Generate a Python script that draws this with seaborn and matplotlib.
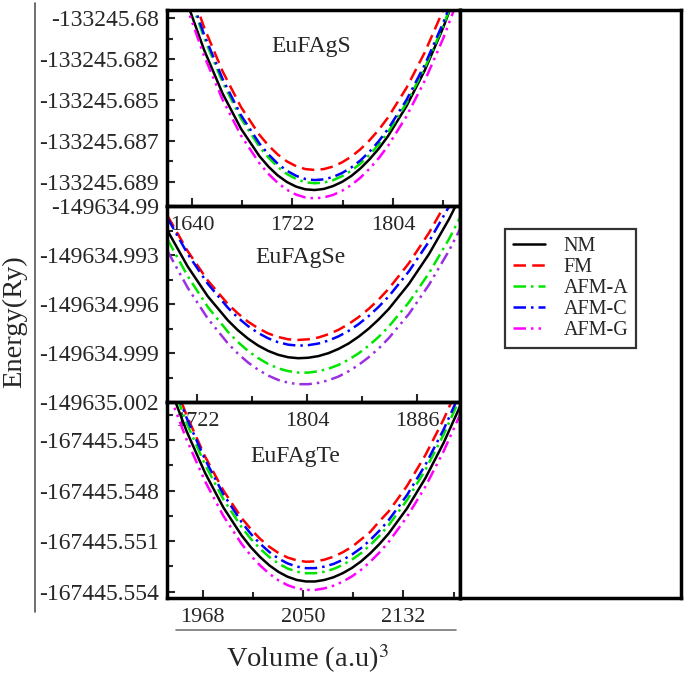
import pandas as pd
import matplotlib
matplotlib.use('Agg')
import matplotlib.pyplot as plt
from matplotlib.lines import Line2D
from matplotlib.ticker import FixedLocator, FixedFormatter
import seaborn as sns

phases = ['NM', 'FM', 'AFM-A', 'AFM-C', 'AFM-G']

# EuFAgS
vol_s = [1620, 1635, 1650, 1665, 1680, 1695, 1702.5, 1710, 1717.5, 1725, 1732.5, 1740,
         1747.5, 1755, 1762.5, 1770, 1777.5, 1785, 1792.5, 1800, 1815, 1830, 1845, 1860]
e_s_nm = [-133245.67558, -133245.67892, -133245.68180, -133245.68424, -133245.68622, -133245.68776,
          -133245.68836, -133245.68885, -133245.68922, -133245.68948, -133245.68963, -133245.68967,
          -133245.68961, -133245.68945, -133245.68921, -133245.68888, -133245.68845, -133245.68793,
          -133245.68733, -133245.68663, -133245.68495, -133245.68292, -133245.68052, -133245.67775]
e_s_fm = [-133245.67426, -133245.67762, -133245.68053, -133245.68299, -133245.68500, -133245.68656,
          -133245.68717, -133245.68767, -133245.68806, -133245.68833, -133245.68849, -133245.68854,
          -133245.68849, -133245.68835, -133245.68811, -133245.68779, -133245.68737, -133245.68686,
          -133245.68627, -133245.68558, -133245.68392, -133245.68191, -133245.67953, -133245.67678]
e_s_afma = [-133245.67479, -133245.67818, -133245.68112, -133245.68360, -133245.68564, -133245.68723,
            -133245.68785, -133245.68837, -133245.68877, -133245.68905, -133245.68923, -133245.68929,
            -133245.68925, -133245.68912, -133245.68889, -133245.68858, -133245.68818, -133245.68768,
            -133245.68709, -133245.68641, -133245.68478, -133245.68279, -133245.68043, -133245.67770]
e_s_afmc = [-133245.67461, -133245.67800, -133245.68094, -133245.68342, -133245.68546, -133245.68705,
            -133245.68767, -133245.68819, -133245.68859, -133245.68887, -133245.68905, -133245.68911,
            -133245.68907, -133245.68894, -133245.68871, -133245.68840, -133245.68800, -133245.68750,
            -133245.68691, -133245.68623, -133245.68460, -133245.68261, -133245.68025, -133245.67752]
e_s_afmg = [-133245.67586, -133245.67922, -133245.68213, -133245.68459, -133245.68660, -133245.68816,
            -133245.68877, -133245.68927, -133245.68966, -133245.68993, -133245.69009, -133245.69014,
            -133245.69009, -133245.68995, -133245.68971, -133245.68939, -133245.68897, -133245.68846,
            -133245.68787, -133245.68718, -133245.68552, -133245.68351, -133245.68113, -133245.67838]

# EuFAgSe
vol_se = [1700, 1715, 1730, 1745, 1752.5, 1760, 1767.5, 1775, 1782.5, 1790, 1797.5, 1805,
          1812.5, 1820, 1827.5, 1835, 1842.5, 1850, 1857.5, 1865, 1880, 1895, 1910, 1925]
e_se_nm = [-149634.99151, -149634.99370, -149634.99553, -149634.99700, -149634.99761, -149634.99812,
           -149634.99854, -149634.99887, -149634.99911, -149634.99926, -149634.99932, -149634.99929,
           -149634.99919, -149634.99901, -149634.99875, -149634.99842, -149634.99800, -149634.99751,
           -149634.99694, -149634.99630, -149634.99477, -149634.99294, -149634.99079, -149634.98833]
e_se_fm = [-149634.99060, -149634.99276, -149634.99456, -149634.99600, -149634.99658, -149634.99708,
           -149634.99748, -149634.99780, -149634.99802, -149634.99816, -149634.99820, -149634.99816,
           -149634.99805, -149634.99785, -149634.99758, -149634.99723, -149634.99680, -149634.99630,
           -149634.99572, -149634.99506, -149634.99350, -149634.99164, -149634.98947, -149634.98698]
e_se_afma = [-149634.99205, -149634.99429, -149634.99618, -149634.99770, -149634.99833, -149634.99887,
             -149634.99931, -149634.99967, -149634.99994, -149635.00011, -149635.00020, -149635.00020,
             -149635.00012, -149634.99996, -149634.99973, -149634.99941, -149634.99902, -149634.99855,
             -149634.99801, -149634.99738, -149634.99590, -149634.99411, -149634.99201, -149634.98960]
e_se_afmc = [-149634.99074, -149634.99293, -149634.99476, -149634.99623, -149634.99684, -149634.99735,
             -149634.99777, -149634.99810, -149634.99834, -149634.99849, -149634.99855, -149634.99852,
             -149634.99842, -149634.99824, -149634.99798, -149634.99765, -149634.99723, -149634.99674,
             -149634.99617, -149634.99553, -149634.99400, -149634.99217, -149634.99002, -149634.98756]
e_se_afmg = [-149634.99276, -149634.99500, -149634.99689, -149634.99841, -149634.99904, -149634.99958,
             -149635.00002, -149635.00038, -149635.00065, -149635.00082, -149635.00091, -149635.00091,
             -149635.00083, -149635.00067, -149635.00044, -149635.00012, -149634.99973, -149634.99926,
             -149634.99872, -149634.99809, -149634.99661, -149634.99482, -149634.99272, -149634.99031]

# EuFAgTe
vol_te = [1940, 1955, 1970, 1985, 2000, 2007.5, 2015, 2022.5, 2030, 2037.5, 2045, 2052.5, 2060,
          2067.5, 2075, 2082.5, 2090, 2097.5, 2105, 2112.5, 2120, 2135, 2150, 2165, 2180]
e_te_nm = [-167445.54162, -167445.54448, -167445.54694, -167445.54900, -167445.55067, -167445.55136,
           -167445.55194, -167445.55243, -167445.55282, -167445.55311, -167445.55330, -167445.55339,
           -167445.55339, -167445.55330, -167445.55314, -167445.55290, -167445.55259, -167445.55220,
           -167445.55172, -167445.55117, -167445.55055, -167445.54906, -167445.54727, -167445.54516,
           -167445.54274]
e_te_fm = [-167445.54072, -167445.54354, -167445.54597, -167445.54799, -167445.54963, -167445.55029,
           -167445.55086, -167445.55133, -167445.55170, -167445.55197, -167445.55214, -167445.55222,
           -167445.55220, -167445.55210, -167445.55192, -167445.55166, -167445.55134, -167445.55090,
           -167445.55045, -167445.54982, -167445.54924, -167445.54773, -167445.54590, -167445.54377,
           -167445.54132]
e_te_afma = [-167445.54113, -167445.54399, -167445.54645, -167445.54851, -167445.55018, -167445.55087,
             -167445.55145, -167445.55194, -167445.55233, -167445.55262, -167445.55281, -167445.55290,
             -167445.55290, -167445.55281, -167445.55265, -167445.55241, -167445.55210, -167445.55171,
             -167445.55123, -167445.55068, -167445.55006, -167445.54857, -167445.54678, -167445.54467,
             -167445.54225]
e_te_afmc = [-167445.54083, -167445.54369, -167445.54615, -167445.54821, -167445.54988, -167445.55057,
             -167445.55115, -167445.55164, -167445.55203, -167445.55232, -167445.55251, -167445.55260,
             -167445.55260, -167445.55251, -167445.55235, -167445.55211, -167445.55180, -167445.55141,
             -167445.55093, -167445.55038, -167445.54976, -167445.54827, -167445.54648, -167445.54437,
             -167445.54195]
e_te_afmg = [-167445.54212, -167445.54498, -167445.54744, -167445.54950, -167445.55117, -167445.55186,
             -167445.55244, -167445.55293, -167445.55332, -167445.55361, -167445.55380, -167445.55389,
             -167445.55389, -167445.55380, -167445.55364, -167445.55340, -167445.55309, -167445.55270,
             -167445.55222, -167445.55167, -167445.55105, -167445.54956, -167445.54777, -167445.54566,
             -167445.54324]

# axis ticks
xt_s = [1640, 1722, 1804]
xt_se = [1722, 1804, 1886]
xt_te = [1968, 2050, 2132]
yt_s = [-133245.6800, -133245.6823, -133245.6846, -133245.6869, -133245.6892]
yl_s = ['-133245.68', '-133245.682', '-133245.685', '-133245.687', '-133245.689']
yt_se = [-149634.990, -149634.993, -149634.996, -149634.999, -149635.002]
yl_se = ['-149634.99', '-149634.993', '-149634.996', '-149634.999', '-149635.002']
yt_te = [-167445.545, -167445.548, -167445.551, -167445.554]
yl_te = ['-167445.545', '-167445.548', '-167445.551', '-167445.554']


def long_df(vol, series):
    parts = []
    for ph, e in zip(phases, series):
        parts.append(pd.DataFrame({'Volume': vol, 'Energy': e, 'Phase': ph}))
    return pd.concat(parts, ignore_index=True)


df_s = long_df(vol_s, [e_s_nm, e_s_fm, e_s_afma, e_s_afmc, e_s_afmg])
df_se = long_df(vol_se, [e_se_nm, e_se_fm, e_se_afma, e_se_afmc, e_se_afmg])
df_te = long_df(vol_te, [e_te_nm, e_te_fm, e_te_afma, e_te_afmc, e_te_afmg])

colors = {'NM': 'black', 'FM': '#ff0000', 'AFM-A': '#00e600', 'AFM-C': '#0000ff', 'AFM-G': '#ff00ff'}
colors_se = dict(colors, **{'AFM-G': '#9b30e0'})
dash_map = {'NM': '', 'FM': (5, 2.5), 'AFM-A': (5, 2, 1, 2),
            'AFM-C': (5, 2, 1, 2), 'AFM-G': (5, 2, 1, 2, 1, 2)}
LW = 1.8

sns.set_theme(style='ticks')
plt.rcParams['font.family'] = ['Liberation Serif', 'DejaVu Serif']
plt.rcParams['mathtext.fontset'] = 'stix'

fig = plt.figure(figsize=(6.85, 6.75), dpi=100)

W, H = 685.0, 675.0
def px_axes(x0, y0, x1, y1):
    return fig.add_axes([x0 / W, 1 - y1 / H, (x1 - x0) / W, (y1 - y0) / H])

panels = [
    ('EuFAgS', df_s, colors, (1619.6, 1858.7), xt_s, [1681, 1763, 1845],
     (-133245.69057, -133245.67953), yt_s, yl_s, (0.491, 0.814), (10, 206)),
    ('EuFAgSe', df_se, colors_se, (1699.6, 1918.1), xt_se, [1763, 1845],
     (-149635.002, -149634.990), yt_se, yl_se, (0.454, 0.735), (206, 402)),
    ('EuFAgTe', df_te, colors, (1939.0, 2178.3), xt_te, [2009, 2091, 2173],
     (-167445.55437, -167445.54275), yt_te, yl_te, (0.437, 0.724), (402, 598)),
]

for title, df, pal, xlim, xt, xminor, ylim, yt, yl, tpos, (ya, yb) in panels:
    ax = px_axes(167, ya, 460, yb)
    ax.set_facecolor('none')
    sns.lineplot(data=df, x='Volume', y='Energy', hue='Phase', style='Phase',
                 palette=pal, dashes=dash_map, linewidth=LW, legend=False,
                 errorbar=None, ax=ax)
    ax.set_xlim(*xlim)
    ax.set_ylim(*ylim)
    ax.xaxis.set_major_locator(FixedLocator(xt))
    ax.xaxis.set_major_formatter(FixedFormatter([str(v) for v in xt]))
    ax.xaxis.set_minor_locator(FixedLocator(xminor))
    ax.yaxis.set_major_locator(FixedLocator(yt))
    ax.yaxis.set_major_formatter(FixedFormatter(yl))
    ymin = [(a + b) / 2 for a, b in zip(yt[:-1], yt[1:])]
    if title == 'EuFAgTe':
        ymin = [yt[0] + 0.0015] + ymin
    ax.yaxis.set_minor_locator(FixedLocator(ymin))
    ax.tick_params(which='both', direction='in', width=1.5, top=False, right=False)
    ax.tick_params(which='major', length=6)
    ax.tick_params(which='minor', length=4)
    ax.tick_params(axis='x', labelsize=16, pad=7)
    ax.tick_params(axis='y', labelsize=17, pad=6)
    ax.set_xlabel('')
    ax.set_ylabel('')
    for sp in ax.spines.values():
        sp.set_visible(True)
        sp.set_linewidth(2.5)
        sp.set_color('black')
    ax.text(tpos[0], tpos[1], title, transform=ax.transAxes, ha='center', va='center', fontsize=17)

# empty right panel holding the legend
axr = px_axes(460, 10, 681, 598)
axr.set_xticks([])
axr.set_yticks([])
for sp in axr.spines.values():
    sp.set_visible(True)
    sp.set_linewidth(2.5)
    sp.set_color('black')

handles = []
for ph in phases:
    if dash_map[ph] == '':
        handles.append(Line2D([], [], color=colors[ph], lw=LW, linestyle='-'))
    else:
        handles.append(Line2D([], [], color=colors[ph], lw=LW, dashes=dash_map[ph]))
leg = axr.legend(handles, phases, loc='upper left', bbox_to_anchor=(0.204, 0.628),
                 borderaxespad=0, fontsize=14.5, frameon=True, fancybox=False,
                 edgecolor='black', handlelength=1.6, handletextpad=0.9,
                 labelspacing=0.1, borderpad=0.4)
leg.get_frame().set_linewidth(1.6)

# outer frame lines
fig.add_artist(Line2D([35 / W, 35 / W], [1 - 3 / H, 1 - 612 / H], color='#555555', lw=1.2,
                      transform=fig.transFigure))
fig.add_artist(Line2D([176 / W, 456 / W], [1 - 630 / H, 1 - 630 / H], color='#777777', lw=1.2,
                      transform=fig.transFigure))

fig.text(15 / W, 1 - 322 / H, 'Energy(Ry)', rotation=90, ha='center', va='center', fontsize=20.5)
fig.text(307 / W, 1 - 667 / H, 'Volume (a.u)$^3$', ha='center', va='baseline', fontsize=20.5)

fig.savefig('out.png', dpi=100)
